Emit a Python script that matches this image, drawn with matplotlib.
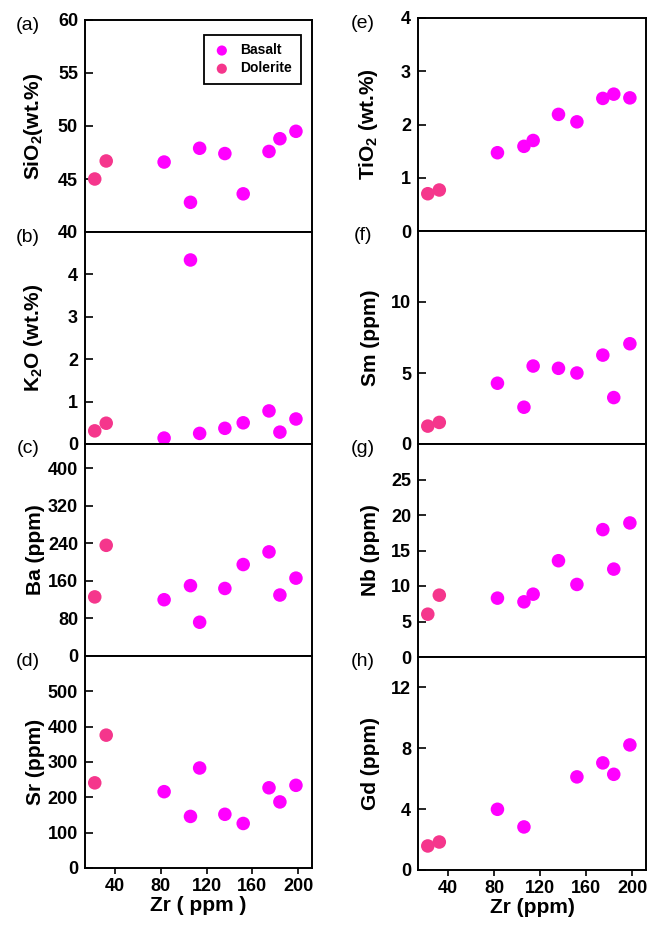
import matplotlib
matplotlib.use("Agg")
import matplotlib.pyplot as plt

plt.rcParams['font.family'] = ['Liberation Sans', 'DejaVu Sans']
plt.rcParams['mathtext.fontset'] = 'custom'
plt.rcParams['mathtext.rm'] = 'Liberation Sans:bold'
plt.rcParams['mathtext.bf'] = 'Liberation Sans:bold'
plt.rcParams['mathtext.default'] = 'bf'

# ---- data ----
zr_dol = [22.5, 32.5]
zr_bas = [83, 106, 114, 136, 152, 174.5, 184, 198]
zr_bas_gd = [83, 106, 152, 174.5, 184, 198]

sio2_dol = [45.0, 46.7]
sio2_bas = [46.6, 42.8, 47.9, 47.4, 43.6, 47.6, 48.8, 49.5]
k2o_dol = [0.31, 0.49]
k2o_bas = [0.14, 4.34, 0.25, 0.37, 0.50, 0.78, 0.28, 0.59]
ba_dol = [126, 236]
ba_bas = [120, 150, 72, 144, 195, 222, 130, 166]
sr_dol = [241, 376]
sr_bas = [216, 146, 283, 152, 126, 227, 187, 234]
tio2_dol = [0.70, 0.77]
tio2_bas = [1.47, 1.59, 1.70, 2.19, 2.05, 2.49, 2.57, 2.50]
sm_dol = [1.26, 1.52]
sm_bas = [4.28, 2.59, 5.49, 5.33, 5.0, 6.26, 3.27, 7.06]
nb_dol = [6.03, 8.71]
nb_bas = [8.29, 7.77, 8.85, 13.56, 10.22, 17.94, 12.38, 18.88]
gd_dol = [1.58, 1.84]
gd_bas = [3.99, 2.83, 6.12, 7.04, 6.29, 8.22]

x_ticks = [40, 80, 120, 160, 200]

panels_left = [
    ('(a)', r'SiO$_2$(wt.%)', zr_bas, sio2_bas, sio2_dol, (40, 60), [40, 45, 50, 55, 60]),
    ('(b)', r'K$_2$O (wt.%)', zr_bas, k2o_bas, k2o_dol, (0, 5), [0, 1, 2, 3, 4]),
    ('(c)', 'Ba (ppm)', zr_bas, ba_bas, ba_dol, (0, 452), [0, 80, 160, 240, 320, 400]),
    ('(d)', 'Sr (ppm)', zr_bas, sr_bas, sr_dol, (0, 600), [0, 100, 200, 300, 400, 500]),
]
panels_right = [
    ('(e)', r'TiO$_2$ (wt.%)', zr_bas, tio2_bas, tio2_dol, (0, 4), [0, 1, 2, 3, 4]),
    ('(f)', 'Sm (ppm)', zr_bas, sm_bas, sm_dol, (0, 15), [0, 5, 10]),
    ('(g)', 'Nb (ppm)', zr_bas, nb_bas, nb_dol, (0, 30), [0, 5, 10, 15, 20, 25]),
    ('(h)', 'Gd (ppm)', zr_bas_gd, gd_bas, gd_dol, (0, 14), [0, 4, 8, 12]),
]

BAS = '#FF00FF'
DOL = '#F5368C'

W, H = 651, 925
fig = plt.figure(figsize=(W / 100, H / 100), dpi=100)

def make_col(panels, x0, x1, y0, y1, xlabel, lab_x, ylab_x):
    n = len(panels)
    ph = (y1 - y0) / n
    axes = []
    for i, (tag, ylab, xb, yb, yd, ylim, yt) in enumerate(panels):
        top = y0 + i * ph
        ax = fig.add_axes([x0 / W, 1 - (top + ph) / H, (x1 - x0) / W, ph / H])
        ax.scatter(xb, yb, s=95, color=BAS, edgecolors='none', zorder=3, label='Basalt')
        ax.scatter(zr_dol, yd, s=95, color=DOL, edgecolors='none', zorder=3, label='Dolerite')
        ax.set_xlim(14, 212)
        ax.set_ylim(*ylim)
        ax.set_yticks(yt)
        ax.set_xticks(x_ticks)
        for s in ax.spines.values():
            s.set_linewidth(1.4)
        ax.tick_params(axis='y', direction='in', length=6, width=1.2, pad=5,
                       labelsize=13)
        for t in ax.get_yticklabels():
            t.set_fontweight('bold')
        if i == n - 1:
            ax.tick_params(axis='x', direction='out', length=4, width=1.2, pad=3,
                           labelsize=13)
            for t in ax.get_xticklabels():
                t.set_fontweight('bold')
            ax.set_xlabel(xlabel, fontsize=15, fontweight='bold', labelpad=1)
        else:
            ax.tick_params(axis='x', bottom=False, labelbottom=False)
        ax.set_ylabel(ylab, fontsize=15, fontweight='bold')
        ax.yaxis.set_label_coords(ylab_x, 0.5)
        fig.text(lab_x / W, 1 - (top + 5) / H, tag, fontsize=14, ha='center', va='center')
        axes.append(ax)
    return axes

left = make_col(panels_left, 85, 312, 20, 868, 'Zr ( ppm )', 28, -0.175)
right = make_col(panels_right, 418, 646, 18, 870, 'Zr (ppm)', 363, -0.167)

leg = left[0].legend(loc='upper right', bbox_to_anchor=(0.95, 0.93), borderaxespad=0,
                     fancybox=False, edgecolor='black', framealpha=1,
                     prop={'weight': 'bold', 'size': 10}, markerscale=0.75,
                     handletextpad=0.7, borderpad=0.6, labelspacing=0.3, handlelength=1.3)
leg.get_frame().set_linewidth(1.3)

fig.savefig('out.png', dpi=100)
